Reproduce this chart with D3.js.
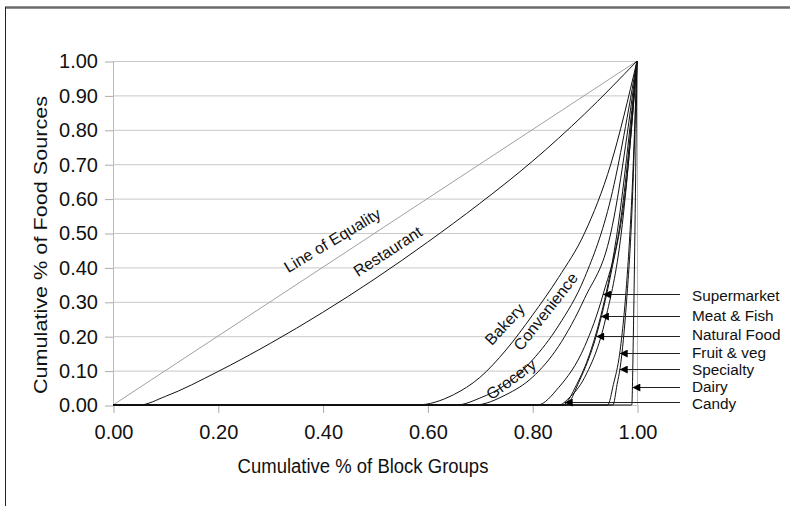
<!DOCTYPE html>
<html>
<head>
<meta charset="utf-8">
<title>Lorenz curves of food sources</title>
<script src="https://d3js.org/d3.v7.min.js"></script>
<style>
  body { margin: 0; background: #fff; }
  svg { display: block; font-family: "Liberation Sans", Arial, sans-serif; }
</style>
</head>
<body>
<svg width="790" height="506"></svg>
<script>
// tick values
const xTicks = [0, 0.2, 0.4, 0.6, 0.8, 1.0];
const yTicks = [0, 0.1, 0.2, 0.3, 0.4, 0.5, 0.6, 0.7, 0.8, 0.9, 1.0];

// Lorenz curves: [cum % block groups, cum % food sources]
const equality    = [[0, 0], [1, 1]];
const restaurant  = [[0, 0], [0.05, 0], [0.1, 0.025], [0.2, 0.097], [0.3, 0.179], [0.4, 0.269], [0.5, 0.367], [0.6, 0.473], [0.7, 0.586], [0.8, 0.708], [0.9, 0.846], [1, 1]];
const bakery      = [[0, 0], [0.58, 0], [0.65, 0.03], [0.7, 0.08], [0.75, 0.16], [0.8, 0.26], [0.85, 0.37], [0.9, 0.5], [0.95, 0.7], [1, 1]];
const convenience = [[0, 0], [0.655, 0], [0.7, 0.02], [0.75, 0.06], [0.8, 0.13], [0.85, 0.23], [0.9, 0.37], [0.95, 0.6], [1, 1]];
const grocery     = [[0, 0], [0.69, 0], [0.75, 0.03], [0.8, 0.08], [0.85, 0.17], [0.9, 0.31], [0.95, 0.5], [1, 1]];
const supermarket = [[0, 0], [0.81, 0], [0.85, 0.05], [0.9, 0.17], [0.935, 0.32], [0.97, 0.55], [1, 1]];
const meatFish    = [[0, 0], [0.858, 0], [0.885, 0.06], [0.91, 0.15], [0.931, 0.26], [0.96, 0.48], [1, 1]];
const naturalFood = [[0, 0], [0.864, 0], [0.89, 0.07], [0.922, 0.2], [0.95, 0.38], [0.98, 0.65], [1, 1]];
const candy       = [[0, 0], [0.851, 0], [0.87, 0.02], [0.9, 0.08], [0.94, 0.25], [0.97, 0.5], [1, 1]];
const fruitVeg    = [[0, 0], [0.944, 0], [0.955, 0.06], [0.967, 0.15], [0.98, 0.35], [0.99, 0.6], [1, 1]];
const specialty   = [[0, 0], [0.954, 0], [0.962, 0.06], [0.968, 0.11], [0.98, 0.3], [0.99, 0.55], [1, 1]];
const dairy       = [[0, 0], [0.99, 0], [0.993, 0.2], [0.996, 0.5], [1, 1]];

const curves = [restaurant, bakery, convenience, grocery, supermarket, meatFish,
                naturalFood, candy, fruitVeg, specialty, dairy];

// labels written along the curves: text, x, y, angle
const curveLabels = ["Line of Equality", "Restaurant", "Bakery", "Convenience", "Grocery"];
const curveLabelX = [0.424, 0.530, 0.755, 0.834, 0.766];
const curveLabelY = [0.465, 0.433, 0.224, 0.262, 0.062];
const curveLabelAngle = [-31, -33, -47, -52, -36];

// arrow labels on the right: text, the point the arrow touches, label height
const arrowLabels = ["Supermarket", "Meat & Fish", "Natural Food", "Fruit & veg", "Specialty", "Dairy", "Candy"];
const arrowX = [0.935, 0.931, 0.922, 0.967, 0.967, 0.991, 0.862];
const arrowY = [0.323, 0.259, 0.200, 0.151, 0.105, 0.051, 0.010];
const arrowLabelY = [0.317, 0.259, 0.203, 0.151, 0.102, 0.053, 0.002];

const svg = d3.select("svg");
const x = d3.scaleLinear().domain([0, 1]).range([113, 637]);
const y = d3.scaleLinear().domain([0, 1]).range([405, 61]);

// frame
svg.append("line").attr("x1", 5).attr("x2", 790).attr("y1", 7.5).attr("y2", 7.5)
   .attr("stroke", "#6a6a6a").attr("stroke-width", 2.5);
svg.append("line").attr("x1", 5.5).attr("x2", 5.5).attr("y1", 7).attr("y2", 506)
   .attr("stroke", "#222").attr("stroke-width", 1);

// grid
svg.append("g").selectAll("line").data(yTicks).join("line")
   .attr("x1", x(0)).attr("x2", x(1))
   .attr("y1", d => y(d) + 0.5).attr("y2", d => y(d) + 0.5)
   .attr("stroke", "#c8c8c8");
svg.append("line").attr("x1", x(0) + 0.5).attr("x2", x(0) + 0.5).attr("y1", y(1)).attr("y2", y(0))
   .attr("stroke", "#bbb");
svg.append("line").attr("x1", x(1) + 0.5).attr("x2", x(1) + 0.5).attr("y1", y(1)).attr("y2", y(0))
   .attr("stroke", "#bbb");

// axes
const yAxis = svg.append("g").attr("transform", `translate(${x(0)},0.5)`)
   .call(d3.axisLeft(y).tickValues(yTicks).tickSize(8).tickPadding(7).tickFormat(d3.format(".2f")));
const xAxis = svg.append("g").attr("transform", `translate(0.5,${y(0)})`)
   .call(d3.axisBottom(x).tickValues(xTicks).tickSize(8).tickPadding(12).tickFormat(d3.format(".2f")));
[yAxis, xAxis].forEach(g => {
  g.select(".domain").remove();
  g.selectAll(".tick line").attr("stroke", "#aaa");
  g.selectAll(".tick text").attr("fill", "#111").attr("font-size", 20)
   .attr("font-family", "Liberation Sans, Arial, sans-serif");
});

// axis titles
svg.append("text").attr("transform", "translate(363,473) scale(1,1.08)").attr("text-anchor", "middle")
   .attr("font-size", 18.5).attr("fill", "#111").text("Cumulative % of Block Groups");
svg.append("text").attr("transform", "translate(47,245) rotate(-90) scale(1.17,1)").attr("text-anchor", "middle")
   .attr("font-size", 18.5).attr("fill", "#111").text("Cumulative % of Food Sources");

// curves
const line = d3.line().x(d => x(d[0])).y(d => y(d[1])).curve(d3.curveMonotoneX);
svg.append("path").datum(equality).attr("d", line)
   .attr("fill", "none").attr("stroke", "#a0a0a0").attr("stroke-width", 1);
svg.append("g").selectAll("path").data(curves).join("path")
   .attr("d", line).attr("fill", "none").attr("stroke", "#111").attr("stroke-width", 1);

// curve labels
svg.append("g").selectAll("text").data(curveLabels).join("text")
   .attr("transform", (d, i) => `translate(${x(curveLabelX[i])},${y(curveLabelY[i])}) rotate(${curveLabelAngle[i]})`)
   .attr("text-anchor", "middle").attr("font-size", 16).attr("fill", "#111")
   .text(d => d);

// arrows
svg.append("defs").append("marker")
   .attr("id", "head").attr("viewBox", "0 -5 10 10").attr("refX", 10).attr("refY", 0)
   .attr("markerUnits", "userSpaceOnUse").attr("markerWidth", 13).attr("markerHeight", 8)
   .attr("orient", "auto")
   .append("path").attr("d", "M0,-5L10,0L0,5Z").attr("fill", "#000");

const arrows = svg.append("g").selectAll("g").data(arrowLabels).join("g");
arrows.append("line")
   .attr("x1", 680).attr("x2", (d, i) => x(arrowX[i]))
   .attr("y1", (d, i) => Math.round(y(arrowY[i])) + 0.5).attr("y2", (d, i) => Math.round(y(arrowY[i])) + 0.5)
   .attr("stroke", "#222").attr("stroke-width", 1).attr("marker-end", "url(#head)");
arrows.append("text")
   .attr("x", 692).attr("y", (d, i) => y(arrowLabelY[i]) + 1)
   .attr("dominant-baseline", "middle").attr("font-size", 15.3).attr("fill", "#111")
   .text(d => d);
</script>
</body>
</html>
